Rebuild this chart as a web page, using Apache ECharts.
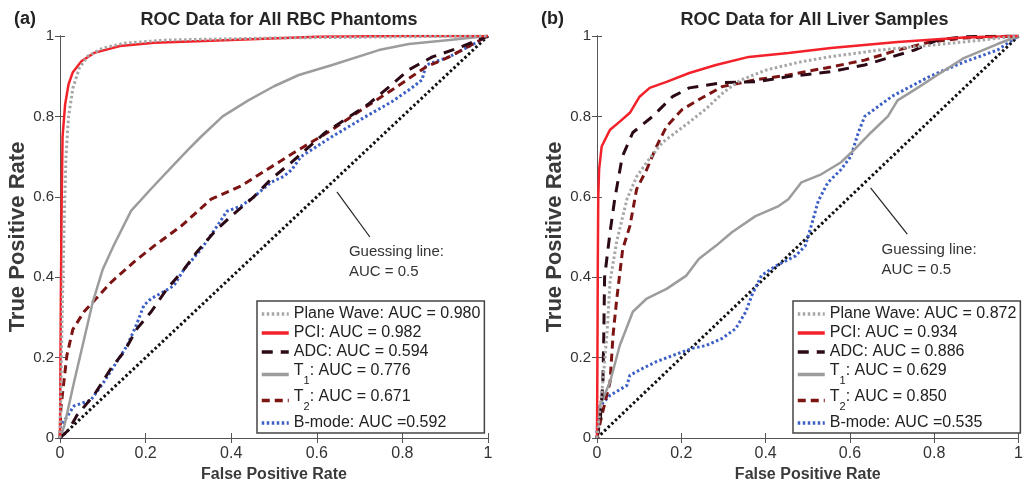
<!DOCTYPE html>
<html>
<head>
<meta charset="utf-8">
<title>ROC</title>
<style>
  * { margin: 0; padding: 0; }
  html, body { width: 100%; height: 100%; background: #fff; }
</style>
</head>
<body>
<div id="main" style="width:1026px;height:491px;"></div>
<script src="https://cdn.jsdelivr.net/npm/echarts@6/dist/echarts.min.js"></script>
<script>
// ---- data: [false positive rate, true positive rate] ----
const titles = ['ROC Data for All RBC Phantoms', 'ROC Data for All Liver Samples'];
const panelTags = ['(a)', '(b)'];
const methods = ['Plane Wave', 'PCI', 'ADC', 'T1', 'T2', 'B-mode'];
const aucA = ['0.980', '0.982', '0.594', '0.776', '0.671', '0.592'];
const aucB = ['0.872', '0.934', '0.886', '0.629', '0.850', '0.535'];
const diagonal = [[0, 0], [1, 1]];

const pwA = [[0,0],[0.005,0.3],[0.01,0.55],[0.014,0.7],[0.02,0.8],[0.03,0.87],[0.045,0.92],[0.065,0.95],[0.1,0.97],[0.15,0.982],[0.25,0.99],[0.5,0.995],[1,1]];
const pciA = [[0,0],[0.002,0.35],[0.004,0.6],[0.006,0.75],[0.012,0.83],[0.02,0.88],[0.03,0.91],[0.05,0.937],[0.08,0.958],[0.14,0.975],[0.22,0.983],[0.4,0.99],[0.6,0.998],[0.8,1],[1,1]];
const adcA = [[0,0],[0.02,0.02],[0.04,0.057],[0.079,0.106],[0.119,0.173],[0.15,0.215],[0.18,0.272],[0.213,0.314],[0.25,0.371],[0.29,0.42],[0.32,0.463],[0.36,0.512],[0.4,0.552],[0.453,0.6],[0.493,0.644],[0.54,0.685],[0.62,0.76],[0.72,0.83],[0.776,0.88],[0.815,0.916],[0.87,0.948],[0.93,0.97],[1,1]];
const t1A = [[0,0],[0.01,0.03],[0.033,0.14],[0.055,0.24],[0.077,0.34],[0.1,0.42],[0.126,0.48],[0.166,0.565],[0.213,0.62],[0.26,0.673],[0.3,0.718],[0.33,0.75],[0.38,0.8],[0.44,0.84],[0.5,0.875],[0.558,0.903],[0.636,0.928],[0.745,0.965],[0.815,0.98],[0.91,0.99],[1,1]];
const t2A = [[0,0],[0.002,0.074],[0.016,0.205],[0.03,0.27],[0.056,0.314],[0.12,0.388],[0.173,0.438],[0.22,0.478],[0.283,0.527],[0.353,0.594],[0.423,0.627],[0.484,0.668],[0.547,0.71],[0.636,0.767],[0.715,0.824],[0.776,0.866],[0.855,0.923],[0.909,0.948],[1,1]];
const bmA = [[0,0],[0.002,0.03],[0.033,0.08],[0.072,0.094],[0.103,0.14],[0.133,0.19],[0.157,0.23],[0.178,0.28],[0.196,0.33],[0.213,0.347],[0.243,0.364],[0.266,0.379],[0.29,0.42],[0.33,0.47],[0.367,0.527],[0.39,0.564],[0.423,0.577],[0.453,0.6],[0.493,0.636],[0.523,0.651],[0.542,0.668],[0.563,0.7],[0.636,0.75],[0.715,0.8],[0.776,0.837],[0.822,0.871],[0.846,0.891],[0.855,0.928],[0.909,0.948],[0.963,0.978],[1,1]];

const pwB = [[0,0],[0.005,0.05],[0.014,0.14],[0.024,0.265],[0.031,0.39],[0.047,0.49],[0.071,0.594],[0.094,0.65],[0.118,0.686],[0.155,0.735],[0.212,0.78],[0.26,0.82],[0.3,0.86],[0.34,0.89],[0.4,0.915],[0.48,0.935],[0.55,0.948],[0.67,0.965],[0.87,0.985],[1,1]];
const pciB = [[0,0],[0.001,0.2],[0.002,0.45],[0.003,0.6],[0.005,0.668],[0.011,0.725],[0.031,0.767],[0.054,0.787],[0.078,0.809],[0.101,0.849],[0.125,0.871],[0.165,0.886],[0.219,0.908],[0.282,0.928],[0.36,0.948],[0.454,0.958],[0.555,0.97],[0.713,0.985],[0.87,0.996],[1,1]];
const adcB = [[0,0],[0.008,0.05],[0.014,0.14],[0.016,0.25],[0.018,0.4],[0.031,0.512],[0.042,0.594],[0.06,0.7],[0.085,0.76],[0.132,0.8],[0.179,0.849],[0.219,0.871],[0.297,0.884],[0.376,0.886],[0.454,0.899],[0.555,0.911],[0.635,0.928],[0.753,0.965],[0.807,0.99],[0.87,0.998],[1,1]];
const t1B = [[0,0],[0.003,0.04],[0.007,0.08],[0.031,0.14],[0.054,0.23],[0.085,0.314],[0.118,0.347],[0.165,0.371],[0.212,0.404],[0.242,0.446],[0.282,0.478],[0.32,0.512],[0.376,0.552],[0.431,0.577],[0.454,0.594],[0.485,0.636],[0.532,0.656],[0.579,0.686],[0.611,0.718],[0.65,0.76],[0.69,0.8],[0.713,0.84],[0.753,0.866],[0.81,0.905],[0.87,0.945],[0.95,0.98],[1,1]];
const t2B = [[0,0],[0.01,0.05],[0.031,0.14],[0.038,0.255],[0.047,0.347],[0.061,0.47],[0.078,0.527],[0.094,0.619],[0.118,0.668],[0.141,0.725],[0.165,0.775],[0.202,0.817],[0.242,0.842],[0.297,0.874],[0.376,0.891],[0.454,0.903],[0.555,0.923],[0.635,0.94],[0.713,0.965],[0.79,0.985],[0.87,0.995],[1,1]];
const bmB = [[0,0],[0,0.02],[0.007,0.08],[0.031,0.106],[0.071,0.131],[0.078,0.156],[0.108,0.173],[0.141,0.19],[0.179,0.205],[0.226,0.223],[0.259,0.23],[0.297,0.248],[0.329,0.272],[0.353,0.314],[0.367,0.354],[0.39,0.404],[0.424,0.428],[0.471,0.453],[0.494,0.478],[0.508,0.527],[0.525,0.59],[0.548,0.636],[0.579,0.668],[0.602,0.7],[0.62,0.76],[0.635,0.8],[0.7,0.85],[0.79,0.9],[0.87,0.935],[0.95,0.965],[1,1]];

// annotation: pointer line and text anchor (data coords)
const pointerA = [[0.647, 0.612], [0.724, 0.5]];
const pointerB = [[0.649, 0.622], [0.736, 0.507]];
const noteA = [0.675, 0.488];
const noteB = [0.675, 0.493];
const noteText = ['Guessing line:', 'AUC = 0.5'];
</script>
<script>
const chart = echarts.init(document.getElementById('main'));

const grids = [
  { left: 60, top: 36, width: 428, height: 402 },
  { left: 597, top: 36, width: 425, height: 402 }
];
const lineStyles = [
  { color: '#a6a6a6', width: 3, type: [2.5, 2.5] },
  { color: '#f2212a', width: 2.5, type: 'solid' },
  { color: '#2b0a16', width: 3, type: [11, 8] },
  { color: '#9c9c9c', width: 2.5, type: 'solid' },
  { color: '#7d1414', width: 3, type: [8, 5] },
  { color: '#3b5fc4', width: 3, type: [2.5, 2.5] }
];
const AXIS_COL = '#555';
const FONT = 'Liberation Sans';

function legendName(m, auc) {
  if (m === 'B-mode') return m + ': AUC =' + auc;
  return m + ': AUC = ' + auc;
}
function richName(name) {
  const m = name.match(/^T(\d)(.*)$/);
  if (m) return '{tt|T}{s|' + m[1] + '}{tt|' + m[2] + '}';
  return '{t|' + name + '}';
}

const xAxis = [], yAxis = [], series = [], legend = [], title = [];
[0, 1].forEach(function (g) {
  xAxis.push({
    gridIndex: g, type: 'value', min: 0, max: 1, interval: 0.2,
    name: 'False Positive Rate', nameLocation: 'middle', nameGap: 29,
    nameTextStyle: { fontFamily: FONT, fontWeight: 'bold', fontSize: 16, color: '#3a3a3a' },
    axisLine: { lineStyle: { color: AXIS_COL } },
    axisTick: { inside: true, length: 5, lineStyle: { color: AXIS_COL } },
    axisLabel: { fontFamily: FONT, fontSize: 16, color: '#333', margin: 8 },
    splitLine: { show: false }
  });
  xAxis.push({
    gridIndex: g, type: 'value', min: 0, max: 1, interval: 0.2, position: 'top',
    axisLine: { lineStyle: { color: AXIS_COL } },
    axisTick: { inside: true, length: 5, lineStyle: { color: AXIS_COL } },
    axisLabel: { show: false }, splitLine: { show: false }
  });
  yAxis.push({
    gridIndex: g, type: 'value', min: 0, max: 1, interval: 0.2,
    name: 'True Positive Rate', nameLocation: 'middle', nameGap: 31,
    nameTextStyle: { fontFamily: FONT, fontWeight: 'bold', fontSize: 22, color: '#3a3a3a' },
    axisLine: { lineStyle: { color: AXIS_COL } },
    axisTick: { inside: true, length: 5, lineStyle: { color: AXIS_COL } },
    axisLabel: { fontFamily: FONT, fontSize: 15, color: '#333', margin: 6 },
    splitLine: { show: false }
  });
  yAxis.push({
    gridIndex: g, type: 'value', min: 0, max: 1, interval: 0.2, position: 'right',
    axisLine: { lineStyle: { color: AXIS_COL } },
    axisTick: { inside: true, length: 5, lineStyle: { color: AXIS_COL } },
    axisLabel: { show: false }, splitLine: { show: false }
  });
});

const panelData = [
  [pwA, pciA, adcA, t1A, t2A, bmA],
  [pwB, pciB, adcB, t1B, t2B, bmB]
];
const aucs = [aucA, aucB];
const pointers = [pointerA, pointerB];

[0, 1].forEach(function (g) {
  const names = [];
  series.push({
    type: 'line', xAxisIndex: g * 2, yAxisIndex: g * 2, data: diagonal,
    symbol: 'none', silent: true, z: 1,
    lineStyle: { color: '#111', width: 3, type: [2.5, 2.5] }
  });
  series.push({
    type: 'line', xAxisIndex: g * 2, yAxisIndex: g * 2, data: pointers[g],
    symbol: 'none', silent: true,
    lineStyle: { color: '#222', width: 1.2 }
  });
  methods.forEach(function (m, i) {
    const nm = legendName(m, aucs[g][i]);
    names.push(nm);
    series.push({
      name: nm, type: 'line', xAxisIndex: g * 2, yAxisIndex: g * 2,
      data: panelData[g][i], symbol: 'none', z: 2 + (5 - i),
      lineStyle: lineStyles[i], itemStyle: { color: lineStyles[i].color }
    });
  });
  legend.push({
    data: names, orient: 'vertical',
    left: g === 0 ? 257 : 793, top: 301,
    itemWidth: 27, itemHeight: 14, itemGap: 3,
    padding: [5, 4, 2, 3],
    borderColor: '#444', borderWidth: 1.5, backgroundColor: '#fff',
    selectedMode: false,
    itemStyle: { opacity: 0, color: 'transparent', borderWidth: 0 },
    lineStyle: { width: 3.5 },
    formatter: richName,
    textStyle: {
      fontFamily: FONT, fontSize: 16, color: '#222',
      rich: {
        t: { fontFamily: FONT, fontSize: 16, color: '#222' },
        tt: { fontFamily: FONT, fontSize: 16, color: '#222', verticalAlign: 'top', lineHeight: 21 },
        s: { fontFamily: FONT, fontSize: 11, color: '#222', verticalAlign: 'bottom', lineHeight: 23 }
      }
    }
  });
  title.push({
    text: titles[g], left: grids[g].left + grids[g].width / 2, top: 6, textAlign: 'center',
    textStyle: { fontFamily: FONT, fontWeight: 'bold', fontSize: 18, color: '#262626' }
  });
  title.push({
    text: panelTags[g], left: g === 0 ? 9 : 536, top: 5,
    textStyle: { fontFamily: FONT, fontWeight: 'bold', fontSize: 18, color: '#222' }
  });
});

chart.setOption({
  animation: false,
  backgroundColor: '#fff',
  title: title,
  grid: grids,
  xAxis: xAxis,
  yAxis: yAxis,
  legend: legend,
  series: series
});

// annotation text placed through the grid's own coordinate system
const notes = [noteA, noteB];
const graphic = [];
[0, 1].forEach(function (g) {
  const p = chart.convertToPixel({ gridIndex: g }, notes[g]);
  graphic.push({
    type: 'text', left: p[0], top: p[1],
    style: { text: noteText.join('\n'), fontFamily: FONT, fontSize: 15, lineHeight: 20, fill: '#333' }
  });
});
chart.setOption({ graphic: graphic });
</script>
</body>
</html>
